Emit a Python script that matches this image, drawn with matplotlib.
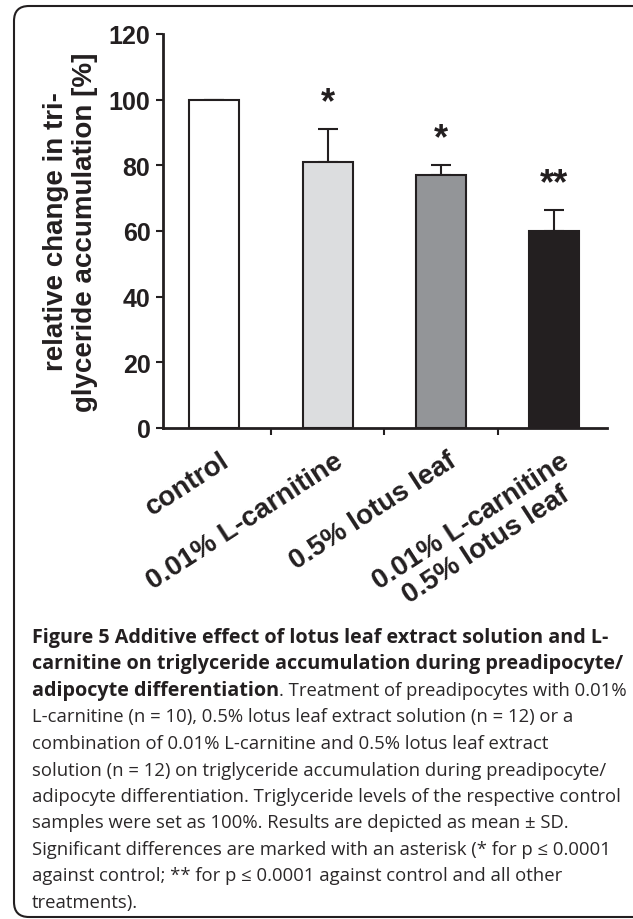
import matplotlib
matplotlib.use("Agg")
import matplotlib.pyplot as plt
from matplotlib.patches import FancyBboxPatch
from matplotlib.transforms import ScaledTranslation
import numpy as np

# ---------------- data ----------------
categories = ["control", "0.01% L-carnitine", "0.5% lotus leaf",
              "0.01% L-carnitine\n0.5% lotus leaf"]
means = [100, 81, 77, 60]
sd_upper = [0, 10, 3, 6.3]
bar_colors = ["#ffffff", "#dcdddf", "#939598", "#231f20"]
stars = ["", "*", "*", "**"]
yticks = [0, 20, 40, 60, 80, 100, 120]
ylabel = "relative change in tri-\nglyceride accumulation [%]"

caption_bold = [
    "Figure 5 Additive effect of lotus leaf extract solution and L-",
    "carnitine on triglyceride accumulation during preadipocyte/",
    "adipocyte differentiation",
]
caption_rest3 = ". Treatment of preadipocytes with 0.01%"
caption_regular = [
    "L-carnitine (n = 10), 0.5% lotus leaf extract solution (n = 12) or a",
    "combination of 0.01% L-carnitine and 0.5% lotus leaf extract",
    "solution (n = 12) on triglyceride accumulation during preadipocyte/",
    "adipocyte differentiation. Triglyceride levels of the respective control",
    "samples were set as 100%. Results are depicted as mean \u00b1 SD.",
    "Significant differences are marked with an asterisk (* for p \u2264 0.0001",
    "against control; ** for p \u2264 0.0001 against control and all other",
    "treatments).",
]

# ---------------- figure ----------------
W, H = 633, 920
fig = plt.figure(figsize=(W / 100, H / 100), dpi=100)
plt.rcParams["font.family"] = ["Liberation Sans", "DejaVu Sans"]
ink = "#231f20"

ax = fig.add_axes([163 / W, 1 - 429 / H, 444 / W, 394 / H])
x = np.arange(len(categories))
ax.bar(x, means, width=0.44, color=bar_colors, edgecolor=ink,
       linewidth=1.5, zorder=2)
ax.errorbar(x, means, yerr=[np.zeros(len(means)), sd_upper], fmt="none",
            ecolor=ink, elinewidth=1.5, capsize=7, capthick=1.5, zorder=1)

for xi, m, s, st in zip(x, means, sd_upper, stars):
    if st:
        ax.annotate(st, xy=(xi, m + s), xytext=(0, 12.5),
                    textcoords="offset points", ha="center", va="baseline",
                    fontsize=26, fontweight="bold", color=ink,
                    annotation_clip=False)

ax.set_xlim(-0.454, 3.467)
ax.set_ylim(0, 120)
ax.set_yticks(yticks)
ax.set_yticklabels([str(v) for v in yticks], fontsize=18, fontweight="bold",
                   color=ink)
for sp in ["top", "right"]:
    ax.spines[sp].set_visible(False)
for sp in ["left", "bottom"]:
    ax.spines[sp].set_linewidth(2)
    ax.spines[sp].set_color(ink)
ax.tick_params(axis="y", direction="out", length=5, width=1.5, pad=4,
               colors=ink)

ax.set_xticks(x)
ax.set_xticklabels(categories, fontsize=20, fontweight="bold", color=ink,
                   rotation=33, ha="right", va="top", rotation_mode="anchor",
                   multialignment="center", linespacing=1.1)
ax.tick_params(axis="x", which="major", length=0, pad=14)
ax.set_xticks(x[:-1] + 0.5, minor=True)
ax.tick_params(axis="x", which="minor", direction="out", length=5, width=1.5,
               colors=ink)
off = ScaledTranslation(0.06, 0, fig.dpi_scale_trans)
for lab in ax.get_xticklabels():
    lab.set_transform(lab.get_transform() + off)

ax.set_ylabel(ylabel, fontsize=20, fontweight="bold", color=ink,
              linespacing=1.15)
ax.yaxis.set_label_coords(-0.146, 0.5)

# ---------------- caption ----------------
cap_fam = ["Open Sans", "DejaVu Sans"]
fs_bold = 14.2
fs_reg = 13.3
x0 = 32 / W
base0 = 643
step = 26.5
for i, line in enumerate(caption_bold):
    t = fig.text(x0, 1 - (base0 + i * step) / H, line, fontsize=fs_bold,
                 family=cap_fam, fontweight="bold", color=ink, va="baseline")
r = fig.canvas.get_renderer()
bb = t.get_window_extent(r)
fig.text(bb.x1 / W, 1 - (base0 + 2 * step) / H, caption_rest3, fontsize=fs_reg,
         family=cap_fam, color="#2b2829", va="baseline")
for j, line in enumerate(caption_regular):
    fig.text(x0, 1 - (base0 + (3 + j) * step) / H, line, fontsize=fs_reg,
             family=cap_fam, color="#2b2829", va="baseline")

# ---------------- border ----------------
box = FancyBboxPatch((0.14, 0.02), 6.5 - 0.14, 9.13 - 0.02,
                     boxstyle="round,pad=0,rounding_size=0.15",
                     transform=fig.dpi_scale_trans, facecolor="none",
                     edgecolor=ink, linewidth=1.5)
fig.add_artist(box)

fig.savefig("out.png", dpi=100)
